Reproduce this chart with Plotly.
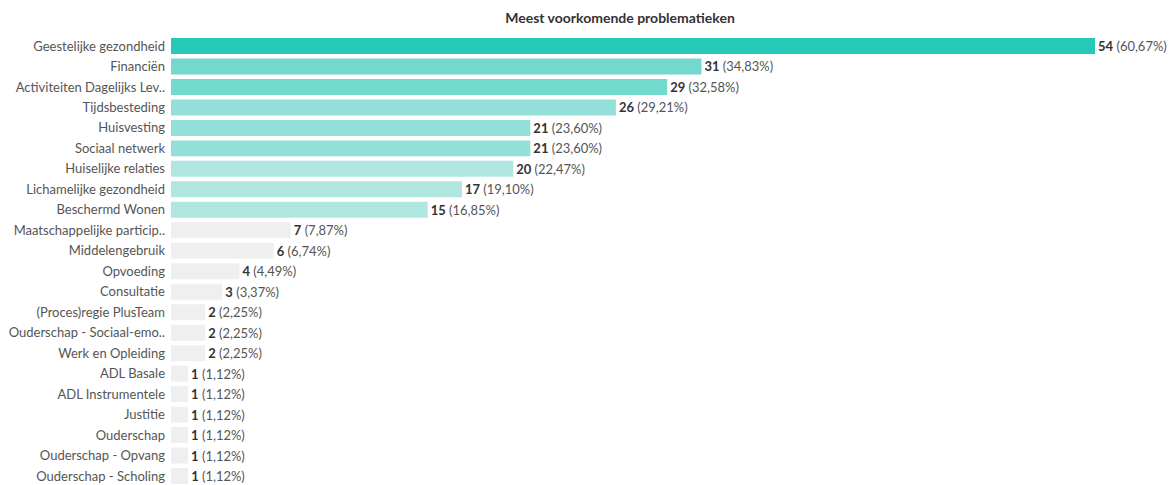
import plotly.graph_objects as go

categories = [
    "Geestelijke gezondheid", "Financiën", "Activiteiten Dagelijks Lev..", "Tijdsbesteding",
    "Huisvesting", "Sociaal netwerk", "Huiselijke relaties", "Lichamelijke gezondheid",
    "Beschermd Wonen", "Maatschappelijke particip..", "Middelengebruik", "Opvoeding",
    "Consultatie", "(Proces)regie PlusTeam", "Ouderschap - Sociaal-emo..", "Werk en Opleiding",
    "ADL Basale", "ADL Instrumentele", "Justitie", "Ouderschap", "Ouderschap - Opvang",
    "Ouderschap - Scholing",
]
counts = [54, 31, 29, 26, 21, 21, 20, 17, 15, 7, 6, 4, 3, 2, 2, 2, 1, 1, 1, 1, 1, 1]
percents = ["60,67%", "34,83%", "32,58%", "29,21%", "23,60%", "23,60%", "22,47%", "19,10%",
            "16,85%", "7,87%", "6,74%", "4,49%", "3,37%", "2,25%", "2,25%", "2,25%",
            "1,12%", "1,12%", "1,12%", "1,12%", "1,12%", "1,12%"]
colors = ["#26C9B8", "#73D9CE", "#73D9CE", "#93E0D8", "#93E0D8", "#93E0D8",
          "#B0E6E0", "#B0E6E0", "#B0E6E0"] + ["#EFEFEF"] * 13

labels = [f"<b>{c}</b><span style='color:#555555'> ({p})</span>" for c, p in zip(counts, percents)]

fig = go.Figure(go.Bar(
    x=counts, y=categories, orientation="h",
    marker=dict(color=colors, line=dict(width=0)),
    text=labels, textposition="outside", cliponaxis=False,
    textfont=dict(family="Lato", size=13, color="#333333"),
    width=0.78, hoverinfo="skip",
))

W, H = 1176, 485
left, right, top, bottom = 171, 5, 30, 0
plot_h = H - top - bottom
step = (476 - 46) / 21
span = plot_h / step
top_val = -(46 - top) / step
fig.update_layout(
    width=W, height=H,
    margin=dict(l=left, r=right, t=top, b=bottom, autoexpand=False),
    paper_bgcolor="white", plot_bgcolor="white",
    showlegend=False,
    title=dict(text="<b>Meest voorkomende problematieken</b>", x=620 / W, xanchor="center",
               xref="container", y=1 - 18 / H, yanchor="middle", yref="container",
               font=dict(family="Lato", size=14, color="#333333")),
    xaxis=dict(range=[0, 54 * (W - left - right) / 924], visible=False, fixedrange=True,
               automargin=False),
    yaxis=dict(range=[top_val + span, top_val], showgrid=False, zeroline=False,
               ticks="", ticklabelstandoff=5, automargin=False, fixedrange=True,
               tickfont=dict(family="Lato", size=13, color="#555555"),
               categoryorder="array", categoryarray=categories),
)
fig.write_html("out.html", config={"displayModeBar": False},
               post_script="document.body.style.margin='0';document.body.style.overflow='hidden';")
